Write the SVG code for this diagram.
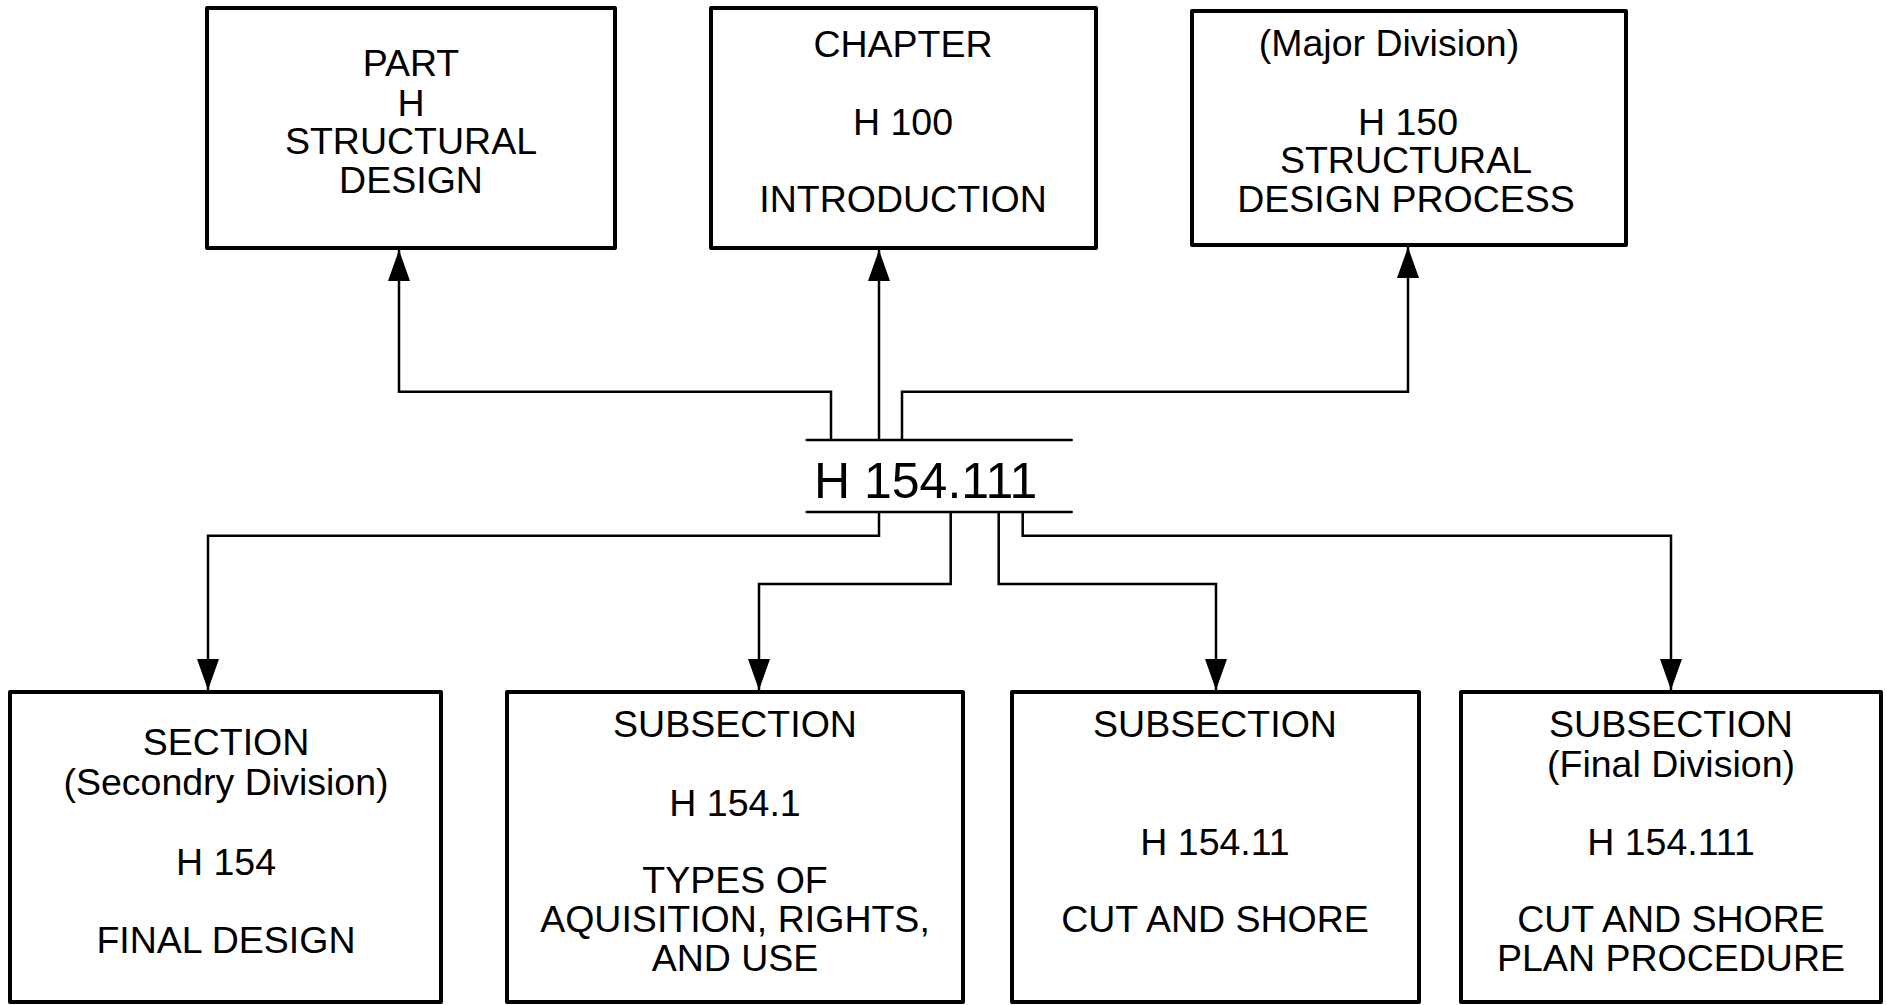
<svg xmlns="http://www.w3.org/2000/svg" width="1887" height="1005" viewBox="0 0 1887 1005">
<style>
.box{fill:#fff;stroke:#000;stroke-width:4;stroke-linejoin:round}
.t{font-family:"Liberation Sans",Arial,sans-serif;font-size:37.5px;text-anchor:middle;fill:#000}
.c{fill:none;stroke:#000;stroke-width:2.5;marker-end:url(#ah)}
.l{fill:none;stroke:#000;stroke-width:2.5;stroke-linecap:round}
</style>
<defs>
<marker id="ah" viewBox="0 0 31 22" refX="31" refY="11" markerWidth="31" markerHeight="22" markerUnits="userSpaceOnUse" orient="auto">
<path d="M0,0 L31,11 L0,22 z" fill="#000"/>
</marker>
</defs>
<rect width="1887" height="1005" fill="#fff"/>
<g id="connectors">
<path class="c" d="M831,440 V391.7 H399 V250"/>
<path class="c" d="M879,440 V250"/>
<path class="c" d="M902,440 V391.7 H1408 V247"/>
<path class="c" d="M879,512 V535.7 H208 V690"/>
<path class="c" d="M950.7,512 V584 H759 V690"/>
<path class="c" d="M998.7,512 V584 H1216 V690"/>
<path class="c" d="M1022.7,512 V535.7 H1671 V690"/>
</g>
<g id="node-part">
<rect class="box" x="207" y="8" width="408" height="240"/>
<text class="t" x="411" y="76">PART</text>
<text class="t" x="411" y="116">H</text>
<text class="t" x="411" y="154">STRUCTURAL</text>
<text class="t" x="411" y="193">DESIGN</text>
</g>
<g id="node-chapter">
<rect class="box" x="711" y="8" width="385" height="240"/>
<text class="t" x="903" y="57">CHAPTER</text>
<text class="t" x="903" y="135">H 100</text>
<text class="t" x="903" y="212">INTRODUCTION</text>
</g>
<g id="node-major">
<rect class="box" x="1192" y="11" width="434" height="234"/>
<text class="t" x="1389" y="56">(Major Division)</text>
<text class="t" x="1408" y="135">H 150</text>
<text class="t" x="1406" y="173">STRUCTURAL</text>
<text class="t" x="1406" y="212">DESIGN PROCESS</text>
</g>
<g id="node-label">
<path class="l" d="M806.7,440 H1071.7 M806.7,512 H1071.7"/>
<text x="814" y="498" style="font-family:'Liberation Sans',Arial,sans-serif;font-size:50px;fill:#000">H 154.111</text>
</g>
<g id="node-section">
<rect class="box" x="10" y="692" width="431" height="310"/>
<text class="t" x="226" y="755">SECTION</text>
<text class="t" x="226" y="795">(Secondry Division)</text>
<text class="t" x="226" y="875">H 154</text>
<text class="t" x="226" y="953">FINAL DESIGN</text>
</g>
<g id="node-sub1">
<rect class="box" x="507" y="692" width="456" height="310"/>
<text class="t" x="735" y="737">SUBSECTION</text>
<text class="t" x="735" y="816">H 154.1</text>
<text class="t" x="735" y="893">TYPES OF</text>
<text class="t" x="735" y="932">AQUISITION, RIGHTS,</text>
<text class="t" x="735" y="971">AND USE</text>
</g>
<g id="node-sub2">
<rect class="box" x="1012" y="692" width="407" height="310"/>
<text class="t" x="1215" y="737">SUBSECTION</text>
<text class="t" x="1215" y="855">H 154.11</text>
<text class="t" x="1215" y="932">CUT AND SHORE</text>
</g>
<g id="node-sub3">
<rect class="box" x="1461" y="692" width="420" height="310"/>
<text class="t" x="1671" y="737">SUBSECTION</text>
<text class="t" x="1671" y="777">(Final Division)</text>
<text class="t" x="1671" y="855">H 154.111</text>
<text class="t" x="1671" y="932">CUT AND SHORE</text>
<text class="t" x="1671" y="971">PLAN PROCEDURE</text>
</g>
</svg>
